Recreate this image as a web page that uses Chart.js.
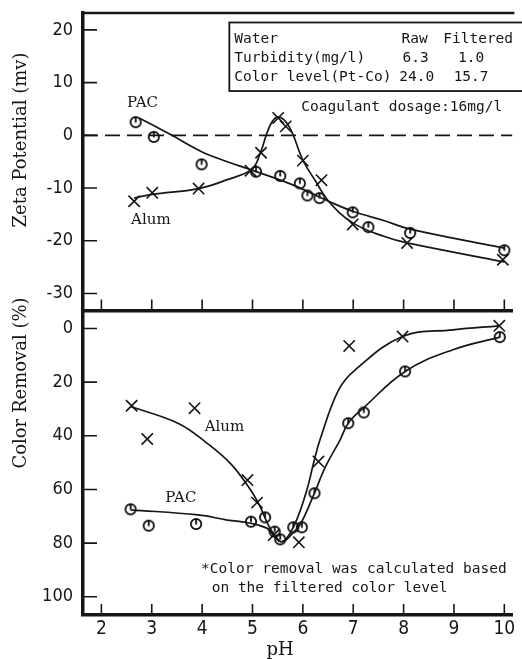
<!DOCTYPE html>
<html>
<head>
<meta charset="utf-8">
<title>Zeta potential and color removal vs pH</title>
<script src="https://cdn.jsdelivr.net/npm/chart.js@4.4.1/dist/chart.umd.min.js"></script>
<style>
    html, body { margin: 0; padding: 0; background: #fff; }
    body { width: 522px; height: 659px; position: relative; overflow: hidden; }
    canvas { position: absolute; left: 0; }
    #zeta { top: 0; }
    #removal { top: 270px; }
</style>
</head>
<body>
<canvas id="zeta" width="522" height="320"></canvas>
<canvas id="removal" width="522" height="389"></canvas>
<script>
// pH axis (shared)
const phTicks = [2, 3, 4, 5, 6, 7, 8, 9, 10];
const phMin = 1.635;
const phMax = 10.16;

// upper panel: zeta potential (mv)
const zetaTicks = [20, 10, 0, -10, -20, -30];
const zetaMin = -33.2;
const zetaMax = 23.2;

const zetaPacPH = [2.68, 3.04, 3.99, 5.07, 5.55, 5.94, 6.09, 6.33, 6.99, 7.30, 8.13, 10.0];
const zetaPacVal = [2.5, -0.3, -5.5, -6.9, -7.7, -9.1, -11.4, -11.9, -14.6, -17.4, -18.5, -21.8];
const zetaAlumPH = [2.65, 3.01, 3.93, 4.96, 5.17, 5.51, 5.66, 6.00, 6.37, 6.99, 8.07, 9.97];
const zetaAlumVal = [-12.5, -10.9, -10.1, -6.7, -3.3, 3.3, 1.7, -4.8, -8.5, -16.9, -20.4, -23.6];

// hand drawn curves of the upper panel
const zetaPacCurvePH = [2.75, 3.4, 3.97, 4.5, 4.99, 5.8, 6.51, 6.99, 7.62, 8.13, 10.0];
const zetaPacCurveVal = [3.3, 0, -3.0, -5.0, -6.6, -9.4, -12.5, -14.4, -16.2, -17.8, -21.4];
const zetaAlumCurvePH = [2.65, 3.0, 3.93, 4.5, 4.99, 5.15, 5.35, 5.51, 5.73, 6.0, 6.26, 6.51, 6.99, 7.62, 8.07, 10.0];
const zetaAlumCurveVal = [-11.9, -11.2, -10.1, -8.4, -6.4, -3.5, 1.9, 3.5, 1.6, -4.7, -8.8, -12.5, -16.6, -19.2, -20.4, -24.0];

const zeroLinePH = [phMin, phMax];
const zeroLineVal = [0, 0];

// lower panel: color removal (%), axis runs downward
const removalTicks = [0, 20, 40, 60, 80, 100];
const removalMin = -6.15;
const removalMax = 106.8;

const removalAlumPH = [2.6, 2.91, 3.85, 4.90, 5.09, 5.42, 5.92, 6.31, 6.92, 7.98, 9.9];
const removalAlumVal = [28.8, 41.2, 29.7, 56.5, 64.9, 77.0, 79.7, 49.6, 6.5, 3.0, -1.0];
const removalPacPH = [2.58, 2.94, 3.88, 4.97, 5.25, 5.44, 5.55, 5.81, 5.98, 6.23, 6.9, 7.21, 8.03, 9.91];
const removalPacVal = [67.4, 73.5, 72.9, 72.0, 70.4, 75.7, 78.6, 74.1, 74.1, 61.4, 35.3, 31.3, 16.0, 3.2];

const removalAlumCurvePH = [2.58, 3.52, 4.10, 4.56, 4.92, 5.12, 5.35, 5.57, 5.80, 6.06, 6.22, 6.34, 6.71, 7.04, 7.98, 8.98, 9.9];
const removalAlumCurveVal = [29.1, 35.3, 42.8, 50.3, 59, 65.2, 74.5, 79.5, 74.5, 61.4, 49.6, 41.5, 22.9, 15.4, 3.0, 0.5, -1.0];
const removalPacCurvePH = [2.58, 3.92, 4.50, 4.96, 5.35, 5.57, 5.80, 5.96, 6.20, 6.45, 6.74, 6.90, 7.21, 8.03, 8.98, 9.91];
const removalPacCurveVal = [67.6, 69.5, 71.4, 72.6, 75.1, 79.5, 76.3, 72.6, 62.7, 51.5, 41.5, 35.3, 29.5, 16.0, 7.9, 3.2];

const ink = '#161616';
const tickFont = "'Liberation Sans Narrow', 'DejaVu Sans Condensed', 'Liberation Sans', sans-serif";
const monoFont = "14.5px 'DejaVu Sans Mono', monospace";
const serifFont = "15px 'DejaVu Serif', serif";

const pts = (xs, ys) => xs.map((x, i) => ({ x: x, y: ys[i] }));

// circle marker with the little stroke on top, like the original
const circleMark = (() => {
    const c = document.createElement('canvas');
    c.width = 16;
    c.height = 16;
    const g = c.getContext('2d');
    g.strokeStyle = '#000';
    g.lineWidth = 1.7;
    g.beginPath();
    g.arc(8, 8, 5.2, 0, Math.PI * 2);
    g.moveTo(8, 2.8);
    g.lineTo(8, 8.5);
    g.stroke();
    return c;
})();

const curve = (xs, ys) => ({
    data: pts(xs, ys),
    showLine: true,
    borderColor: ink,
    borderWidth: 1.7,
    pointRadius: 0,
    tension: 0.4,
});

const circles = (xs, ys) => ({
    data: pts(xs, ys),
    pointStyle: circleMark,
    pointRadius: 6,
});

const crosses = (xs, ys) => ({
    data: pts(xs, ys),
    pointStyle: 'crossRot',
    pointRadius: 8,
    borderColor: ink,
    borderWidth: 1.6,
});

// inward tick marks, top frame line, text notes
const decor = {
    id: 'decor',
    afterDraw(chart, args, opts) {
        const { ctx, chartArea: a, scales: { x, y } } = chart;
        ctx.save();
        ctx.strokeStyle = ink;
        ctx.fillStyle = ink;
        ctx.lineWidth = 1.6;
        ctx.beginPath();
        x.ticks.forEach(t => {
            const px = x.getPixelForValue(t.value);
            ctx.moveTo(px, a.bottom);
            ctx.lineTo(px, a.bottom - 11);
        });
        y.ticks.forEach(t => {
            const py = y.getPixelForValue(t.value);
            ctx.moveTo(a.left, py);
            ctx.lineTo(a.left + 14, py);
        });
        ctx.stroke();

        if (opts.topLine) {
            ctx.lineWidth = 2.6;
            ctx.beginPath();
            ctx.moveTo(a.left, a.top);
            ctx.lineTo(a.right + 2, a.top);
            ctx.stroke();
        }

        if (opts.box) {
            const b = opts.box;
            const l = x.getPixelForValue(b.x0);
            const t = y.getPixelForValue(b.y0);
            const bt = y.getPixelForValue(b.y1);
            ctx.lineWidth = 1.8;
            ctx.strokeRect(l, t, 400, bt - t);
        }

        (opts.notes || []).forEach(n => {
            ctx.font = n.font;
            ctx.textAlign = n.align || 'left';
            ctx.textBaseline = 'middle';
            ctx.fillText(n.text, x.getPixelForValue(n.x), y.getPixelForValue(n.y));
        });

        (opts.titles || []).forEach(t => {
            ctx.save();
            ctx.font = t.font;
            ctx.textAlign = 'center';
            ctx.textBaseline = 'middle';
            ctx.translate(t.px, t.py);
            if (t.rotate) ctx.rotate(-Math.PI / 2);
            ctx.fillText(t.text, 0, 0);
            ctx.restore();
        });
        ctx.restore();
    }
};

const xScale = (showLabels) => ({
    type: 'linear',
    min: phMin,
    max: phMax,
    afterBuildTicks: s => { s.ticks = phTicks.map(v => ({ value: v })); },
    afterFit: s => {
        s.height = showLabels ? 44 : 0;
        s.paddingLeft = 0;
        s.paddingRight = 0;
    },
    grid: { display: false, drawTicks: false },
    border: { display: true, color: ink, width: 3.5 },
    ticks: {
        display: showLabels,
        color: ink,
        padding: 3,
        maxRotation: 0,
        font: { family: tickFont, size: 19 },
    },
});

const yScale = (min, max, tickValues, reverse) => ({
    type: 'linear',
    min: min,
    max: max,
    reverse: reverse,
    afterBuildTicks: s => { s.ticks = tickValues.map(v => ({ value: v })); },
    afterFit: s => {
        s.width = 83;
        s.paddingTop = 0;
        s.paddingBottom = 0;
    },
    grid: { display: false, drawTicks: false },
    border: { display: true, color: ink, width: 3.5 },
    ticks: {
        color: ink,
        padding: 10,
        font: { family: tickFont, size: 18 },
    },
});

const zetaChart = new Chart(document.getElementById('zeta'), {
    type: 'scatter',
    data: {
        datasets: [
            {
                data: pts(zeroLinePH, zeroLineVal),
                showLine: true,
                borderColor: ink,
                borderWidth: 1.6,
                borderDash: [15, 7],
                pointRadius: 0,
            },
            curve(zetaPacCurvePH, zetaPacCurveVal),
            curve(zetaAlumCurvePH, zetaAlumCurveVal),
            circles(zetaPacPH, zetaPacVal),
            crosses(zetaAlumPH, zetaAlumVal),
        ]
    },
    options: {
        responsive: false,
        animation: false,
        events: [],
        layout: { padding: { top: 13, bottom: 8, left: 0, right: 2 } },
        plugins: {
            legend: { display: false },
            tooltip: { enabled: false },
            decor: {
                topLine: true,
                box: { x0: 4.54, y0: 21.4, y1: 8.4 },
                notes: [
                    { text: 'Water', x: 4.64, y: 18.3, font: monoFont },
                    { text: 'Turbidity(mg/l)', x: 4.64, y: 14.7, font: monoFont },
                    { text: 'Color level(Pt-Co)', x: 4.64, y: 11.1, font: monoFont },
                    { text: 'Raw', x: 8.22, y: 18.3, font: monoFont, align: 'center' },
                    { text: '6.3', x: 8.24, y: 14.7, font: monoFont, align: 'center' },
                    { text: '24.0', x: 8.26, y: 11.1, font: monoFont, align: 'center' },
                    { text: 'Filtered', x: 9.48, y: 18.3, font: monoFont, align: 'center' },
                    { text: '1.0', x: 9.34, y: 14.7, font: monoFont, align: 'center' },
                    { text: '15.7', x: 9.34, y: 11.1, font: monoFont, align: 'center' },
                    { text: 'Coagulant dosage:16mg/l', x: 5.97, y: 5.3, font: monoFont },
                    { text: 'PAC', x: 2.51, y: 6.2, font: serifFont },
                    { text: 'Alum', x: 2.59, y: -16.0, font: serifFont },
                ],
                titles: [
                    { text: 'Zeta Potential (mv)', px: 21, py: 140, rotate: true, font: "18px 'DejaVu Serif', serif" },
                ],
            },
        },
        scales: {
            x: xScale(false),
            y: yScale(zetaMin, zetaMax, zetaTicks, false),
        },
    },
    plugins: [decor],
});

const removalChart = new Chart(document.getElementById('removal'), {
    type: 'scatter',
    data: {
        datasets: [
            curve(removalPacCurvePH, removalPacCurveVal),
            curve(removalAlumCurvePH, removalAlumCurveVal),
            circles(removalPacPH, removalPacVal),
            crosses(removalAlumPH, removalAlumVal),
        ]
    },
    options: {
        responsive: false,
        animation: false,
        events: [],
        layout: { padding: { top: 42, bottom: 0, left: 0, right: 2 } },
        plugins: {
            legend: { display: false },
            tooltip: { enabled: false },
            decor: {
                notes: [
                    { text: 'Alum', x: 4.05, y: 36.7, font: serifFont },
                    { text: 'PAC', x: 3.27, y: 63.2, font: serifFont },
                    { text: '*Color removal was calculated based', x: 3.98, y: 89.6, font: monoFont },
                    { text: 'on the filtered color level', x: 4.19, y: 96.7, font: monoFont },
                ],
                titles: [
                    { text: 'Color Removal (%)', px: 21, py: 113, rotate: true, font: "18px 'DejaVu Serif', serif" },
                    { text: 'pH', px: 280, py: 380, rotate: false, font: "18px 'DejaVu Serif', serif" },
                ],
            },
        },
        scales: {
            x: xScale(true),
            y: yScale(removalMin, removalMax, removalTicks, true),
        },
    },
    plugins: [decor],
});
</script>
</body>
</html>
